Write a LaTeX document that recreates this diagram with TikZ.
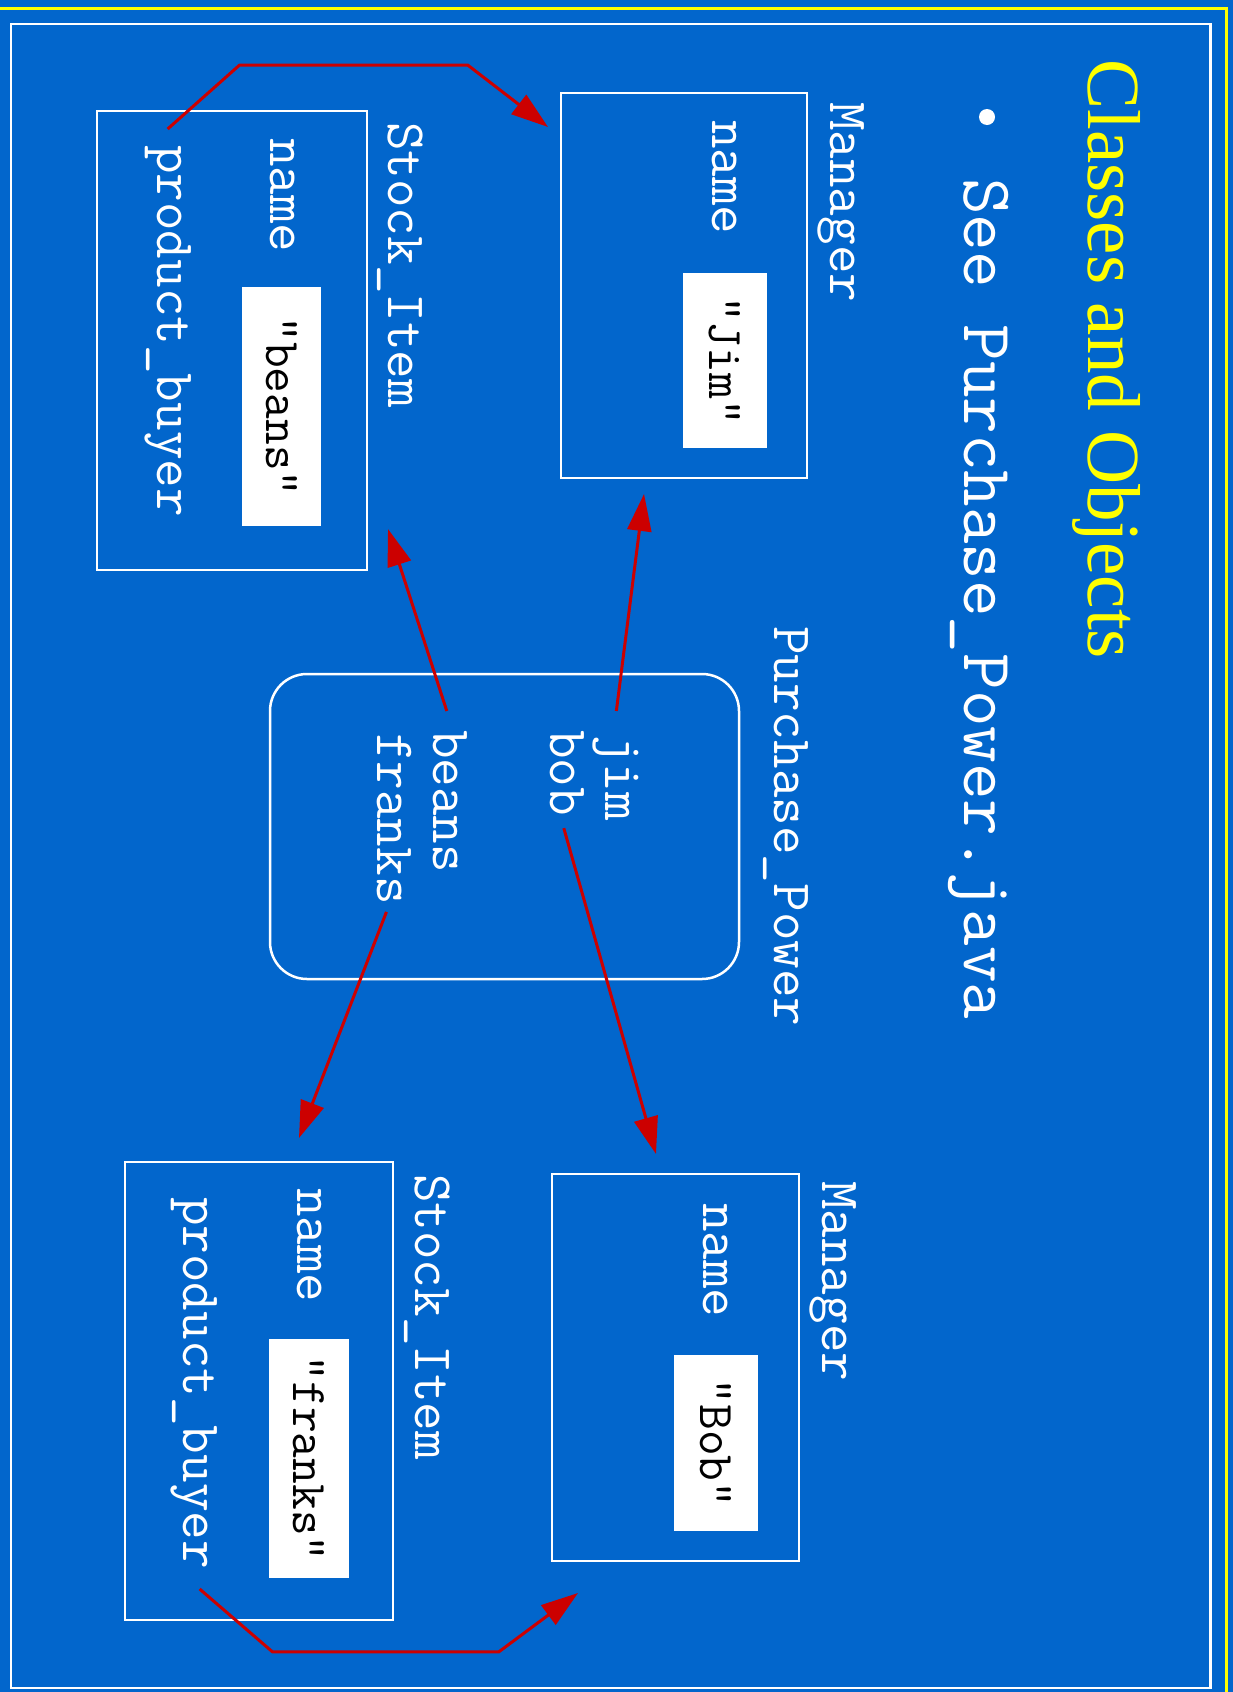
\documentclass[tikz,border=0pt]{standalone}
\usepackage{fontspec}
\setmainfont{Liberation Serif}
\usetikzlibrary{arrows.meta,calc}

\tikzset{
  box/.style={draw=white, line width=2.5pt, inner sep=0pt, outer sep=0pt},
  field/.style={text=white, font=\fontsize{55.5}{60}\selectfont\ttfamily, rotate=-90, anchor=base west, inner sep=0pt},
  value/.style={fill=white, text=black, font=\fontsize{50}{56}\selectfont\ttfamily, rotate=-90, inner sep=0pt},
  ref/.style={draw={rgb,255:red,204;green,0;blue,0}, line width=3pt, -{Triangle[length=37pt,width=24pt]}},
}

\begin{document}
\begin{tikzpicture}[x=1pt,y=1pt,yscale=-1,xscale=1]
\useasboundingbox (0,0) rectangle (1233,1692);

%Shape: Slide background
\fill [color={rgb,255:red,2;green,102;blue,204}] (0,0) rectangle (1233,1692);
\draw [color={rgb,255:red,255;green,255;blue,0}, line width=3pt] (0,8) -- (1226,8) -- (1226,1692);
\draw [white, line width=2.5pt] (11,24) rectangle (1210.5,1688);

% Text Node
\node (title) [text={rgb,255:red,255;green,255;blue,0}, font=\fontsize{75}{80}\selectfont, rotate=-90, anchor=base west, inner sep=0pt] at (1088,59) {Classes and Objects};
%Shape: Bullet
\node (dot) [circle, fill=white, inner sep=0pt, minimum size=16pt] at (987,117) {};
% Text Node
\node (see) [text=white, font=\fontsize{71}{76}\selectfont\ttfamily, rotate=-90, anchor=base west, inner sep=0pt] at (964,178) {See Purchase\_Power.java};

%Shape: Rectangle (Manager jim)
\node (mgrA) [box, minimum width=246pt, minimum height=385pt] at (684,285.5) {};
\node (mgrAcls) [field] at (830,102) {Manager};
\node (mgrAname) [field] at (712,120) {name};
\node (jimval) [value, minimum width=175pt, minimum height=84pt] at (725,360.5) {"Jim"};

%Shape: Rectangle (Stock_Item beans)
\node (stkA) [box, minimum width=270pt, minimum height=459pt] at (232,340.5) {};
\node (stkAcls) [field] at (388,122) {Stock\_Item};
\node (stkAname) [field] at (270,138) {name};
\node (beansval) [value, minimum width=239pt, minimum height=79pt] at (281.5,406.5) {"beans"};
\node (pbA) [field] at (157,145) {product\_buyer};

%Shape: Rounded Rectangle (Purchase_Power)
\node (pp) [box, rounded corners=37pt, minimum width=469pt, minimum height=305pt] at (504.5,826.5) {};
\node (ppcls) [field] at (774,626) {Purchase\_Power};
\node (jim) [field] at (605,735) {jim};
\node (bob) [field] at (550,730) {bob};
\node (beans) [field] at (433,730) {beans};
\node (franks) [field] at (377,733) {franks};

%Shape: Rectangle (Manager bob)
\node (mgrB) [box, minimum width=247pt, minimum height=387pt] at (675.5,1367.5) {};
\node (mgrBcls) [field] at (822,1181) {Manager};
\node (mgrBname) [field] at (703,1203) {name};
\node (bobval) [value, minimum width=176pt, minimum height=84pt] at (716,1443) {"Bob"};

%Shape: Rectangle (Stock_Item franks)
\node (stkB) [box, minimum width=268pt, minimum height=458pt] at (259,1391) {};
\node (stkBcls) [field] at (415,1174) {Stock\_Item};
\node (stkBname) [field] at (297,1188) {name};
\node (franksval) [value, minimum width=239pt, minimum height=80pt] at (309,1458.5) {"franks"};
\node (pbB) [field] at (183,1197) {product\_buyer};

%Straight Lines (references)
\draw [ref] ($(jim.west)+(1,-24)$) -- ($(mgrA.south)+(-40,16)$);
\draw [ref] ($(beans.west)+(-3,-19)$) -- ($(stkA.south east)+(21,-41)$);
\draw [ref] ($(bob.east)+(-3,12)$) -- ($(mgrB.north)+(-19.5,-20)$);
\draw [ref] ($(franks.east)+(-7.5,7)$) -- ($(stkB.north)+(40,-24)$);
\draw [ref] ($(pbA.west)+(0,-16)$) -- ++(72,-64) -- ++(228,0) -- ($(mgrA.north west)+(-13,34)$);
\draw [ref] ($(pbB.east)+(6,20)$) -- ++(73,63) -- ++(226,0) -- ($(mgrB.south west)+(26,32)$);

\end{tikzpicture}
\end{document}
